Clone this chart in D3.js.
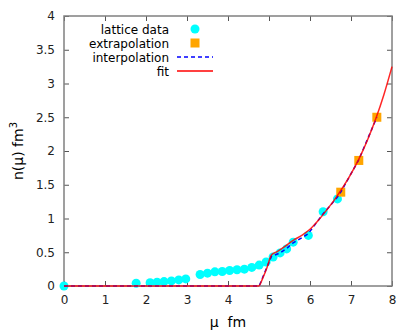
<!DOCTYPE html>
<html>
<head>
<meta charset="utf-8">
<script src="https://cdn.jsdelivr.net/npm/d3@7"></script>
<style>
  body { margin: 0; background: #fff; }
  text { font-family: "DejaVu Sans", sans-serif; }
</style>
</head>
<body>
<div id="chart"></div>
<script>
// lattice data (cyan circles)
var latticeMu = [0, 1.76, 2.1, 2.27, 2.44, 2.62, 2.8, 2.97, 3.32, 3.5, 3.68, 3.86, 4.04, 4.22, 4.4, 4.58, 4.76, 4.93, 5.1, 5.27, 5.43, 5.59, 5.96, 6.32, 6.67];
var latticeN  = [0, 0.04, 0.05, 0.055, 0.065, 0.075, 0.09, 0.105, 0.17, 0.19, 0.21, 0.215, 0.23, 0.24, 0.25, 0.275, 0.31, 0.355, 0.43, 0.49, 0.55, 0.65, 0.75, 1.1, 1.29];
// extrapolation (orange squares)
var extraMu = [6.75, 7.19, 7.63];
var extraN  = [1.39, 1.86, 2.5];
// interpolation (blue dashed)
var interpMu = [0, 4.76, 5.06, 5.27, 5.44, 5.59, 5.95, 6.32, 6.66, 6.75, 7.19, 7.63];
var interpN  = [0, 0, 0.44, 0.49, 0.56, 0.64, 0.77, 1.07, 1.31, 1.39, 1.87, 2.5];
// fit (red)
var fitMu = [0, 4.75, 4.85, 4.95, 5.06, 5.2, 5.4, 5.6, 5.8, 6.0, 6.2, 6.4, 6.6, 6.8, 7.0, 7.2, 7.4, 7.6, 7.8, 8.0];
var fitN  = [0, 0, 0.12, 0.27, 0.46, 0.51, 0.59, 0.68, 0.75, 0.84, 0.97, 1.12, 1.28, 1.46, 1.66, 1.89, 2.16, 2.47, 2.83, 3.25];

var xTicks = [0, 1, 2, 3, 4, 5, 6, 7, 8];
var yTicks = [0, 0.5, 1, 1.5, 2, 2.5, 3, 3.5, 4];
var legendLabels = ["lattice data", "extrapolation", "interpolation", "fit"];

var margin = {top: 16, right: 23, bottom: 45, left: 64};
var W = 415, H = 331;
var width = W - margin.left - margin.right;
var height = H - margin.top - margin.bottom;

var svg = d3.select("#chart").append("svg")
  .attr("width", W).attr("height", H);
var g = svg.append("g")
  .attr("transform", "translate(" + margin.left + "," + margin.top + ")");

var x = d3.scaleLinear().domain([0, 8]).range([0, width]);
var y = d3.scaleLinear().domain([0, 4]).range([height, 0]);

function zip(a, b) { return a.map(function(v, i) { return [v, b[i]]; }); }

// axes with inward ticks, mirrored
g.append("g").attr("transform", "translate(0," + height + ")")
  .call(d3.axisBottom(x).tickValues(xTicks).tickSize(-5).tickPadding(9).tickFormat(d3.format("")));
g.append("g")
  .call(d3.axisTop(x).tickValues(xTicks).tickSize(-5).tickFormat(""));
g.append("g")
  .call(d3.axisLeft(y).tickValues(yTicks).tickSize(-5).tickPadding(9).tickFormat(d3.format("")));
g.append("g").attr("transform", "translate(" + width + ",0)")
  .call(d3.axisRight(y).tickValues(yTicks).tickSize(-5).tickFormat(""));
g.selectAll(".domain").remove();
g.selectAll(".tick line").attr("stroke", "#555");
g.selectAll(".tick text").attr("font-size", 12).attr("fill", "#222").attr("font-family", "DejaVu Sans, sans-serif");

g.append("rect").attr("width", width).attr("height", height)
  .attr("fill", "none").attr("stroke", "#808080").attr("stroke-width", 1.5);

// lattice points
g.selectAll("circle.lat").data(zip(latticeMu, latticeN)).enter()
  .append("circle").attr("class", "lat")
  .attr("cx", function(d) { return x(d[0]); })
  .attr("cy", function(d) { return y(d[1]); })
  .attr("r", 4.5).attr("fill", "#00ffff");

// extrapolation squares
g.selectAll("rect.ext").data(zip(extraMu, extraN)).enter()
  .append("rect").attr("class", "ext")
  .attr("x", function(d) { return x(d[0]) - 4.5; })
  .attr("y", function(d) { return y(d[1]) - 4.5; })
  .attr("width", 9).attr("height", 9).attr("fill", "#ffa500");

var line = d3.line().x(function(d) { return x(d[0]); }).y(function(d) { return y(d[1]); });

g.append("path").datum(zip(interpMu, interpN))
  .attr("d", line).attr("fill", "none")
  .attr("stroke", "#0000ff").attr("stroke-width", 1.5).attr("stroke-dasharray", "4,3");

g.append("path").datum(zip(fitMu, fitN))
  .attr("d", d3.line().curve(d3.curveMonotoneX).x(function(d) { return x(d[0]); }).y(function(d) { return y(d[1]); }))
  .attr("fill", "none").attr("stroke", "#ff0000").attr("stroke-width", 1.5).attr("stroke-opacity", 0.85);

// legend
var leg = svg.append("g");
legendLabels.forEach(function(lab, i) {
  var cy = 29 + i * 14;
  leg.append("text").attr("x", 169).attr("y", cy + 4.5)
    .attr("text-anchor", "end").attr("font-size", 12).attr("fill", "#000").text(lab);
  if (i == 0) leg.append("circle").attr("cx", 195).attr("cy", cy).attr("r", 4.5).attr("fill", "#00ffff");
  if (i == 1) leg.append("rect").attr("x", 190.5).attr("y", cy - 4.5).attr("width", 9).attr("height", 9).attr("fill", "#ffa500");
  if (i == 2) leg.append("line").attr("x1", 177).attr("x2", 213).attr("y1", cy).attr("y2", cy)
    .attr("stroke", "#0000ff").attr("stroke-width", 1.5).attr("stroke-dasharray", "4,3");
  if (i == 3) leg.append("line").attr("x1", 177).attr("x2", 213).attr("y1", cy).attr("y2", cy)
    .attr("stroke", "#ff0000").attr("stroke-width", 1.5);
});

// axis labels
svg.append("text").attr("x", 228).attr("y", 327).attr("text-anchor", "middle")
  .attr("font-size", 14).attr("xml:space", "preserve").text("μ  fm");
var yl = svg.append("text").attr("transform", "translate(23,151) rotate(-90)")
  .attr("text-anchor", "middle").attr("font-size", 14);
yl.append("tspan").text("n(μ) fm");
yl.append("tspan").attr("dy", -6).attr("font-size", 10).text("3");
</script>
</body>
</html>
